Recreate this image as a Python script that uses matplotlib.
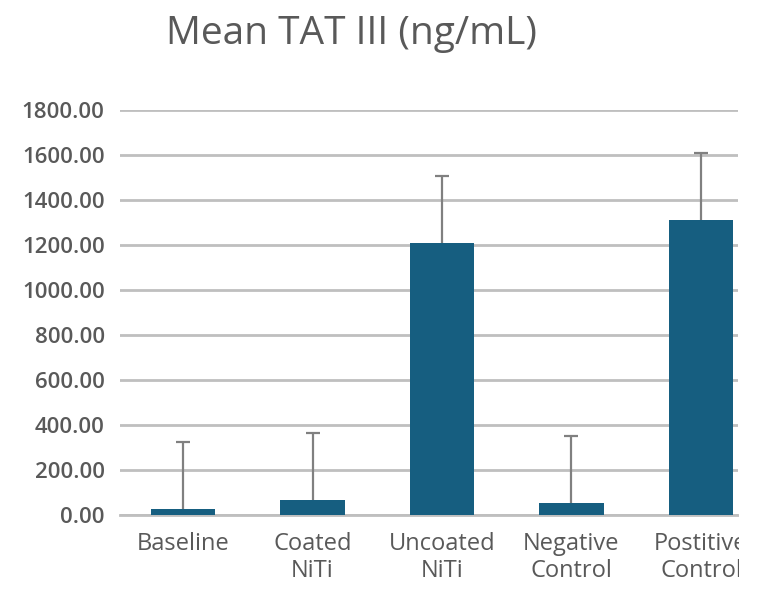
import matplotlib.pyplot as plt
from matplotlib.patches import Rectangle

groups = ['Baseline', 'Coated\nNiTi', 'Uncoated\nNiTi', 'Negative\nControl', 'Postitive\nControl']
means = [25, 67, 1207, 55, 1311]
sd = [298, 296, 298, 297, 298]
yticks = [0, 200, 400, 600, 800, 1000, 1200, 1400, 1600, 1800]

plt.rcParams['font.family'] = ['Open Sans', 'DejaVu Sans']

fig = plt.figure(figsize=(7.8, 6.11), dpi=100)
ax = fig.add_axes([120/780, (611-515)/611, (738-120)/780, (515-110)/611])

x = list(range(len(groups)))
ax.bar(x, means, width=0.5, color='#165E80', zorder=3)
eb = ax.errorbar(x, means, yerr=[[0]*len(sd), sd], fmt='none', ecolor='#808080',
                 elinewidth=1.6, capsize=5, capthick=1.6, zorder=4)
# only the upper cap is shown
eb[1][0].set_visible(False)

ax.set_ylim(0, 1800)
ax.set_xlim(-0.487, 4.286)
ax.set_yticks(yticks)
ax.set_yticklabels(['%.2f' % v for v in yticks])
ax.set_xticks(x)
ax.set_xticklabels(groups, linespacing=1.2)
ax.grid(axis='y', color='#BFBFBF', linewidth=2, zorder=0)
for s in ['top', 'right', 'left']:
    ax.spines[s].set_visible(False)
ax.spines['bottom'].set_color('#BFBFBF')
ax.spines['bottom'].set_linewidth(2)
ax.tick_params(axis='both', length=0, colors='#595959')
ax.tick_params(axis='x', pad=12, labelsize=17)
ax.tick_params(axis='y', pad=11, labelsize=16)
for t in ax.get_yticklabels():
    t.set_fontweight('semibold')

fig.text(352/780, 1 - 34/611, 'Mean TAT III (ng/mL)', ha='center', va='center',
         fontsize=28, color='#595959', fontweight='medium')

# the source image is cut off on the right
fig.patches.append(Rectangle((739/780, 0), 1, 1, transform=fig.transFigure,
                             facecolor='white', edgecolor='none', zorder=10))

fig.savefig('out.png', dpi=100)
